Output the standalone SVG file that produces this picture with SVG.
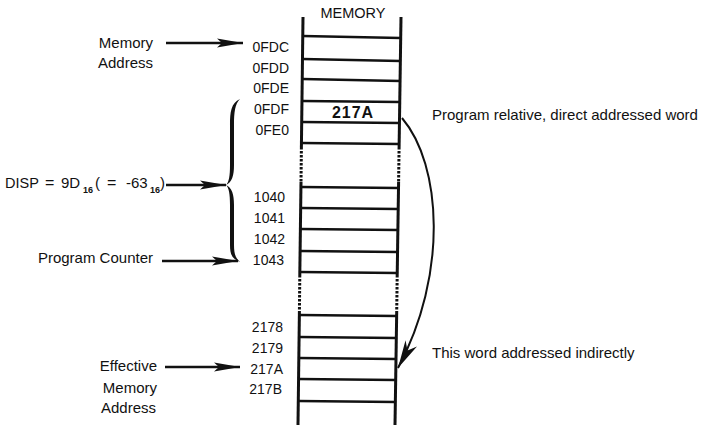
<svg xmlns="http://www.w3.org/2000/svg" width="703" height="425" viewBox="0 0 703 425">
<style>
.lbl{font-family:"Liberation Sans",Arial,sans-serif;font-size:15px;fill:#111}
.addr{font-family:"Liberation Sans",Arial,sans-serif;font-size:14px;fill:#111;text-anchor:end}
.rail{stroke:#111;stroke-width:3;fill:none}
.dash{stroke:#111;stroke-width:3;fill:none;stroke-dasharray:2.5 1.5}
.cell{stroke:#111;stroke-width:2.5;fill:none}
.arr{stroke:#111;stroke-width:2.5;fill:none;marker-end:url(#ah)}
.sub{font-size:9px;font-weight:bold}
</style>
<defs>
<marker id="ah" markerUnits="userSpaceOnUse" markerWidth="28" markerHeight="10" refX="26" refY="5" orient="auto">
<path d="M0,0.5 L26,5 L0,9.5 L5,5 Z" fill="#111"/>
</marker>
<marker id="ah2" markerUnits="userSpaceOnUse" markerWidth="30" markerHeight="14" refX="28" refY="7" orient="auto">
<path d="M0,0.5 L28,7 L0,13.5 L8,7 Z" fill="#111"/>
</marker>
</defs>
<rect width="703" height="425" fill="#fff"/>

<g id="memory">
<text x="353" y="18" class="addr" style="text-anchor:middle;font-size:14.5px">MEMORY</text>
<line class="rail" x1="303" y1="17" x2="301.4" y2="147"/>
<line class="dash" x1="301.4" y1="147" x2="301" y2="182"/>
<line class="rail" x1="301" y1="182" x2="299.8" y2="275"/>
<line class="dash" x1="299.8" y1="275" x2="299.4" y2="312"/>
<line class="rail" x1="299.4" y1="312" x2="298" y2="425"/>
<line class="rail" x1="401" y1="17" x2="399.1" y2="147"/>
<line class="dash" x1="399.1" y1="147" x2="398.6" y2="182"/>
<line class="rail" x1="398.6" y1="182" x2="397.2" y2="275"/>
<line class="dash" x1="397.2" y1="275" x2="396.7" y2="312"/>
<line class="rail" x1="396.7" y1="312" x2="395" y2="425"/>
<line class="cell" x1="302.7" y1="36" x2="400.7" y2="38"/>
<line class="cell" x1="302.4" y1="59" x2="400.4" y2="61"/>
<line class="cell" x1="302.2" y1="79" x2="400.2" y2="81"/>
<line class="cell" x1="302" y1="101" x2="399.9" y2="102"/>
<line class="cell" x1="301.7" y1="122" x2="399.6" y2="123"/>
<line class="cell" x1="301.5" y1="143" x2="399.3" y2="144"/>
<line class="cell" x1="301" y1="187" x2="398.6" y2="188"/>
<line class="cell" x1="300.7" y1="208" x2="398.3" y2="209"/>
<line class="cell" x1="300.4" y1="229" x2="398" y2="230"/>
<line class="cell" x1="300.2" y1="251" x2="397.6" y2="252"/>
<line class="cell" x1="299.9" y1="272" x2="397.3" y2="273"/>
<line class="cell" x1="299.4" y1="315" x2="396.7" y2="316"/>
<line class="cell" x1="299.1" y1="337" x2="396.4" y2="338"/>
<line class="cell" x1="298.8" y1="358" x2="396.1" y2="359"/>
<line class="cell" x1="298.6" y1="379" x2="395.8" y2="380"/>
<line class="cell" x1="298.3" y1="401" x2="395.5" y2="402"/>
<text x="353" y="118" style="font-family:'Liberation Sans',Arial,sans-serif;font-size:16px;font-weight:bold;letter-spacing:1px;fill:#111;text-anchor:middle">217A</text>
</g>

<g id="addresses">
<text class="addr" x="289" y="52">0FDC</text>
<text class="addr" x="289" y="73">0FDD</text>
<text class="addr" x="289" y="93">0FDE</text>
<text class="addr" x="289" y="114">0FDF</text>
<text class="addr" x="289" y="135">0FE0</text>
<text class="addr" x="285" y="202">1040</text>
<text class="addr" x="285" y="223">1041</text>
<text class="addr" x="285" y="244">1042</text>
<text class="addr" x="284" y="265">1043</text>
<text class="addr" x="283" y="332">2178</text>
<text class="addr" x="283" y="353">2179</text>
<text class="addr" x="283" y="374">217A</text>
<text class="addr" x="282" y="394">217B</text>
</g>

<g id="label-memory-address">
<text class="lbl" x="153" y="48" text-anchor="end">Memory</text>
<text class="lbl" x="153" y="68" text-anchor="end">Address</text>
</g>

<g id="label-disp">
<text class="lbl" y="188"><tspan x="5" font-size="14.5">DISP</tspan><tspan x="45" font-size="16">=</tspan><tspan x="61">9D</tspan><tspan x="83" dy="5" class="sub">16</tspan><tspan x="95" dy="-5">(</tspan><tspan x="107" font-size="16">=</tspan><tspan x="126">-63</tspan><tspan x="150" dy="5" class="sub">16</tspan><tspan x="160" dy="-5">)</tspan></text>
</g>

<g id="label-program-counter">
<text class="lbl" x="153" y="263" text-anchor="end">Program Counter</text>
</g>

<g id="label-effective">
<text class="lbl" x="157" y="371" text-anchor="end">Effective</text>
<text class="lbl" x="157" y="393" text-anchor="end">Memory</text>
<text class="lbl" x="156" y="413" text-anchor="end">Address</text>
</g>

<g id="label-direct">
<text class="lbl" x="432" y="120">Program relative, direct addressed word</text>
</g>

<g id="label-indirect">
<text class="lbl" x="432" y="358">This word addressed indirectly</text>
</g>

<g id="brace">
<path d="M240,99 C231,103 230,112 230,125 L230,165 C230,176 229,182 226,185 C229,188 230,194 230,205 L230,245 C230,256 233,259 240,262 C236,258 234,255 234,245 L234,205 C234,194 232,188 226,185 C232,182 234,176 234,165 L234,125 C234,112 235,104 240,99 Z" fill="#111"/>
</g>

<g id="connectors">
<line class="arr" x1="166" y1="43" x2="243" y2="43"/>
<line class="arr" x1="166" y1="185" x2="226" y2="185"/>
<line class="arr" x1="162" y1="261" x2="238" y2="261"/>
<line class="arr" x1="165" y1="367" x2="240" y2="367"/>
<path d="M402,118 C442,165 448,275 398,368" stroke="#111" stroke-width="2" fill="none" marker-end="url(#ah2)"/>
</g>
</svg>
